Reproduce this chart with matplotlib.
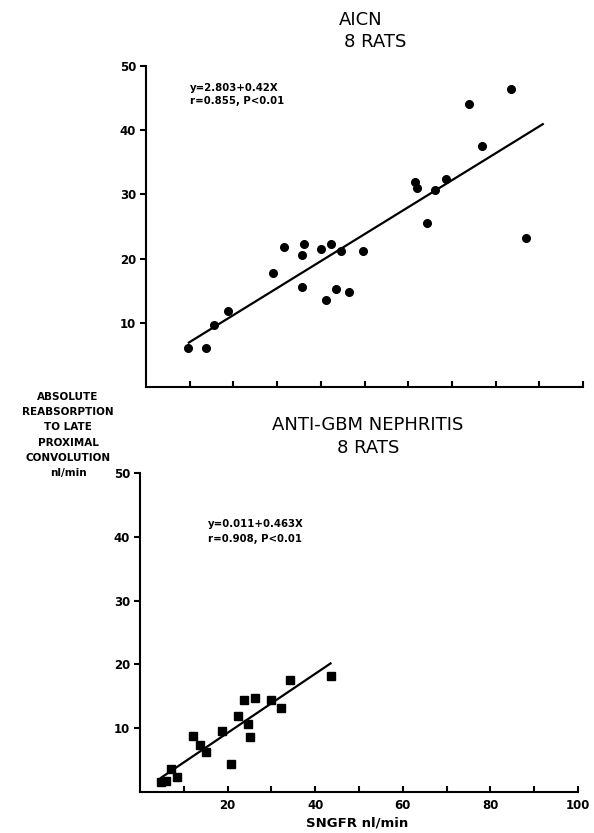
# AICN vs anti-GBM nephritis: proximal reabsorption against SNGFR
import matplotlib.pyplot as plt
import numpy as np

plt.rcParams['font.family'] = 'DejaVu Sans'

# AICN, 8 rats (circles)
aicn_sngfr = [9.6, 13.8, 15.6, 18.8, 29.0, 31.5, 36.1, 35.7, 35.7, 40.0, 42.3, 44.6,
              41.3, 43.4, 46.5, 49.7, 61.5, 62.1, 66.2, 64.4, 68.7, 73.9, 76.9, 83.6, 86.9]
aicn_reabs = [6.0, 6.0, 9.7, 11.9, 17.8, 21.8, 22.3, 20.5, 15.6, 21.5, 22.2, 21.2,
              13.6, 15.2, 14.8, 21.2, 32.0, 31.0, 30.7, 25.6, 32.4, 44.1, 37.6, 46.4, 23.2]
aicn_fit = (2.803, 0.42)
aicn_range = (9.8, 90.8)

# anti-GBM nephritis, 8 rats (squares)
gbm_sngfr = [4.8, 6.0, 7.0, 8.5, 12.1, 13.8, 15.1, 18.8, 20.7, 22.4, 23.7, 24.6,
             25.2, 26.2, 29.8, 32.3, 34.2, 43.5]
gbm_reabs = [1.5, 1.8, 3.6, 2.4, 8.8, 7.4, 6.2, 9.5, 4.4, 11.9, 14.4, 10.6,
             8.6, 14.8, 14.4, 13.2, 17.6, 18.2]
gbm_fit = (0.011, 0.463)
gbm_range = (4.8, 43.5)

ylabel_lines = ['ABSOLUTE', 'REABSORPTION', 'TO LATE', 'PROXIMAL', 'CONVOLUTION', 'nl/min']

fig = plt.figure(figsize=(5.94, 8.33), dpi=100)
ax1 = fig.add_axes([146/594, 1 - 387/833, 437/594, 321/833])
ax2 = fig.add_axes([140/594, 1 - 792/833, 438/594, 319/833])


def style(ax, xlabels):
    ax.set_xlim(0, 100)
    ax.set_ylim(0, 50)
    for s in ['top', 'right']:
        ax.spines[s].set_visible(False)
    for s in ['left', 'bottom']:
        ax.spines[s].set_linewidth(1.5)
    ax.set_yticks([10, 20, 30, 40, 50])
    ax.set_xticks(np.arange(10, 101, 10))
    if xlabels:
        ax.set_xticklabels(['' if v % 20 else str(v) for v in range(10, 101, 10)])
    else:
        ax.set_xticklabels([])
    ax.tick_params(axis='y', direction='out', length=4, width=1.5, labelsize=8.5, pad=3)
    ax.tick_params(axis='x', direction='in', length=4, width=1.5, labelsize=8.5, pad=5)
    for lab in ax.get_xticklabels() + ax.get_yticklabels():
        lab.set_fontweight('bold')


# top panel
style(ax1, False)
ax1.plot(aicn_sngfr, aicn_reabs, 'o', color='black', markersize=5.5)
xs = np.array(aicn_range)
ax1.plot(xs, aicn_fit[0] + aicn_fit[1] * xs, color='black', lw=1.6)
ax1.text(10, 46.6, 'y=2.803+0.42X', fontsize=7.3, fontweight='bold', va='center')
ax1.text(10, 44.6, 'r=0.855, P<0.01', fontsize=7.3, fontweight='bold', va='center')

# bottom panel
style(ax2, True)
ax2.plot(gbm_sngfr, gbm_reabs, 's', color='black', markersize=5.5)
xs = np.array(gbm_range)
ax2.plot(xs, gbm_fit[0] + gbm_fit[1] * xs, color='black', lw=1.6)
ax2.text(15.5, 42.0, 'y=0.011+0.463X', fontsize=7.3, fontweight='bold', va='center')
ax2.text(15.5, 39.6, 'r=0.908, P<0.01', fontsize=7.3, fontweight='bold', va='center')

# titles
fig.text(361/594, 1 - 20/833, 'AICN', ha='center', va='center', fontsize=13)
fig.text(375/594, 1 - 42/833, '8 RATS', ha='center', va='center', fontsize=13)
fig.text(368/594, 1 - 425/833, 'ANTI-GBM NEPHRITIS', ha='center', va='center', fontsize=13)
fig.text(368/594, 1 - 448/833, '8 RATS', ha='center', va='center', fontsize=13)

# y axis label, one line at a time
for i, line in enumerate(ylabel_lines):
    fig.text(68/594, 1 - (397 + 15.2 * i)/833, line, ha='center', va='center',
             fontsize=7.5, fontweight='bold')

fig.text(357/594, 1 - 823/833, 'SNGFR nl/min', ha='center', va='center',
         fontsize=9.5, fontweight='bold')

fig.savefig('out.png', dpi=100)
